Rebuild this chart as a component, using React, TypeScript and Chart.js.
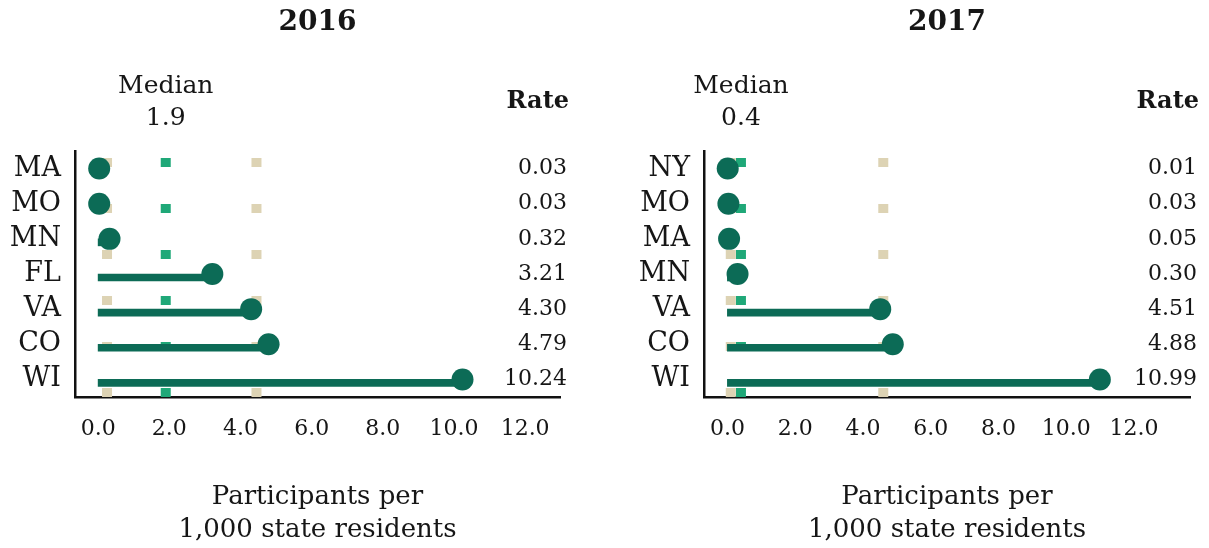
import React, { useEffect, useRef } from "react";
import { Chart, registerables } from "chart.js";

Chart.register(...registerables);

// ---- data ----
const states2016 = ["MA", "MO", "MN", "FL", "VA", "CO", "WI"];
const rates2016 = [0.03, 0.03, 0.32, 3.21, 4.3, 4.79, 10.24];
const median2016 = 1.9;
const lowerRef2016 = 0.25;
const upperRef2016 = 4.45;

const states2017 = ["NY", "MO", "MA", "MN", "VA", "CO", "WI"];
const rates2017 = [0.01, 0.03, 0.05, 0.3, 4.51, 4.88, 10.99];
const median2017 = 0.4;
const lowerRef2017 = 0.1;
const upperRef2017 = 4.6;

const xTickValues = [0, 2, 4, 6, 8, 10, 12];
const captionLines = ["Participants per", "1,000 state residents"];

const DARK = "#0c6b56";
const MEDIAN_GREEN = "#1fa878";
const BEIGE = "#ddd3b4";
const TEXT = "#161616";
const FONT = '"DejaVu Serif", serif';

const textPlugin = {
  id: "panelText",
  afterDraw(chart: any, _args: any, opts: any) {
    const { ctx, chartArea } = chart;
    const xs = chart.scales.x;
    const ys = chart.scales.y;
    const cx = (chartArea.left + chartArea.right) / 2;
    ctx.save();
    ctx.fillStyle = TEXT;
    ctx.textAlign = "center";
    ctx.textBaseline = "middle";
    ctx.font = `bold 28px ${FONT}`;
    ctx.fillText(opts.title, cx, 23);
    ctx.font = `25px ${FONT}`;
    const mx = xs.getPixelForValue(opts.median);
    ctx.fillText("Median", mx, 86);
    ctx.fillText(opts.median.toFixed(1), mx, 118);
    ctx.textAlign = "right";
    ctx.font = `bold 24px ${FONT}`;
    ctx.fillText("Rate", opts.rateRight + 2, 102);
    ctx.font = `22px ${FONT}`;
    opts.rates.forEach((v: number, i: number) => {
      ctx.fillText(v.toFixed(2), opts.rateRight, ys.getPixelForValue(i));
    });
    ctx.textAlign = "center";
    ctx.font = `26px ${FONT}`;
    opts.caption.forEach((l: string, i: number) => ctx.fillText(l, cx, 497 + i * 33));
    ctx.restore();
  },
};

type PanelProps = {
  title: string;
  states: string[];
  rates: number[];
  median: number;
  lowerRef: number;
  upperRef: number;
  xMin: number;
  xMax: number;
  canvasWidth: number;
  leftAxisWidth: number;
  rateRight: number;
  padRight: number;
  left: number;
};

function Panel(p: PanelProps) {
  const ref = useRef<HTMLCanvasElement>(null);
  useEffect(() => {
    if (!ref.current) return;
    const refLine = (v: number, color: string) => ({
      type: "line" as const,
      indexAxis: "y" as const,
      data: [
        { x: v, y: 0 },
        { x: v, y: 1 },
      ],
      xAxisID: "x",
      yAxisID: "yv",
      borderColor: color,
      borderWidth: 10,
      borderDash: [9, 37],
      borderDashOffset: 0,
      borderCapStyle: "butt" as const,
      pointRadius: 0,
      order: 3,
    });
    const chart = new Chart(ref.current, {
      type: "bar",
      data: {
        labels: p.states,
        datasets: [
          refLine(p.lowerRef, BEIGE),
          refLine(p.upperRef, BEIGE),
          refLine(p.median, MEDIAN_GREEN),
          {
            type: "bar",
            indexAxis: "y",
            data: p.rates,
            xAxisID: "x",
            yAxisID: "y",
            backgroundColor: DARK,
            barThickness: 7,
            borderWidth: 0,
            order: 2,
          } as any,
          {
            type: "line",
            indexAxis: "y",
            data: p.rates,
            xAxisID: "x",
            yAxisID: "y",
            showLine: false,
            pointRadius: 11,
            pointBackgroundColor: DARK,
            pointBorderWidth: 0,
            order: 1,
          } as any,
        ],
      },
      options: {
        indexAxis: "y",
        responsive: false,
        animation: false,
        devicePixelRatio: 1,
        layout: { padding: { top: 151, left: 0, right: p.padRight, bottom: 0 } },
        plugins: {
          legend: { display: false },
          tooltip: { enabled: false },
          title: { display: false },
          panelText: {
            title: p.title,
            median: p.median,
            caption: captionLines,
            rates: p.rates,
            rateRight: p.rateRight,
          },
        } as any,
        scales: {
          x: {
            type: "linear",
            axis: "x",
            position: "bottom",
            min: p.xMin,
            max: p.xMax,
            grid: { display: false, drawTicks: false },
            border: { display: true, color: "#111", width: 2.5 },
            afterBuildTicks: (s: any) => {
              s.ticks = xTickValues.map((v) => ({ value: v }));
            },
            afterFit: (s: any) => {
              s.height = 548 - 397;
            },
            ticks: {
              padding: 19,
              color: TEXT,
              font: { family: FONT, size: 22 },
              callback: (v: any) => Number(v).toFixed(1),
              maxRotation: 0,
              autoSkip: false,
            },
          },
          y: {
            type: "category",
            axis: "y",
            position: "left",
            offset: true,
            grid: { display: false, drawTicks: false },
            border: { display: true, color: "#111", width: 2.5 },
            afterFit: (s: any) => {
              s.width = p.leftAxisWidth;
            },
            ticks: {
              padding: 14,
              color: TEXT,
              autoSkip: false,
              font: { family: FONT, size: 27 },
            },
          },
          yv: {
            type: "linear",
            axis: "y",
            display: false,
            offset: false,
            grace: 0,
            min: 0,
            max: 1,
          },
        } as any,
      },
      plugins: [textPlugin as any],
    });
    return () => chart.destroy();
  }, []);
  return (
    <canvas
      ref={ref}
      width={p.canvasWidth}
      height={548}
      style={{ position: "absolute", left: p.left, top: 0, width: p.canvasWidth, height: 548 }}
    />
  );
}

export default function App() {
  return (
    <div style={{ position: "absolute", left: 0, top: 0, width: 1209, height: 548, background: "#fff", overflow: "hidden" }}>
      <Panel
        title="2016"
        states={states2016}
        rates={rates2016}
        median={median2016}
        lowerRef={lowerRef2016}
        upperRef={upperRef2016}
        xMin={-0.65}
        xMax={12.98}
        canvasWidth={604}
        leftAxisWidth={75}
        rateRight={567}
        padRight={44}
        left={0}
      />
      <Panel
        title="2017"
        states={states2017}
        rates={rates2017}
        median={median2017}
        lowerRef={lowerRef2017}
        upperRef={upperRef2017}
        xMin={-0.69}
        xMax={13.65}
        canvasWidth={605}
        leftAxisWidth={100}
        rateRight={593}
        padRight={19}
        left={604}
      />
    </div>
  );
}
